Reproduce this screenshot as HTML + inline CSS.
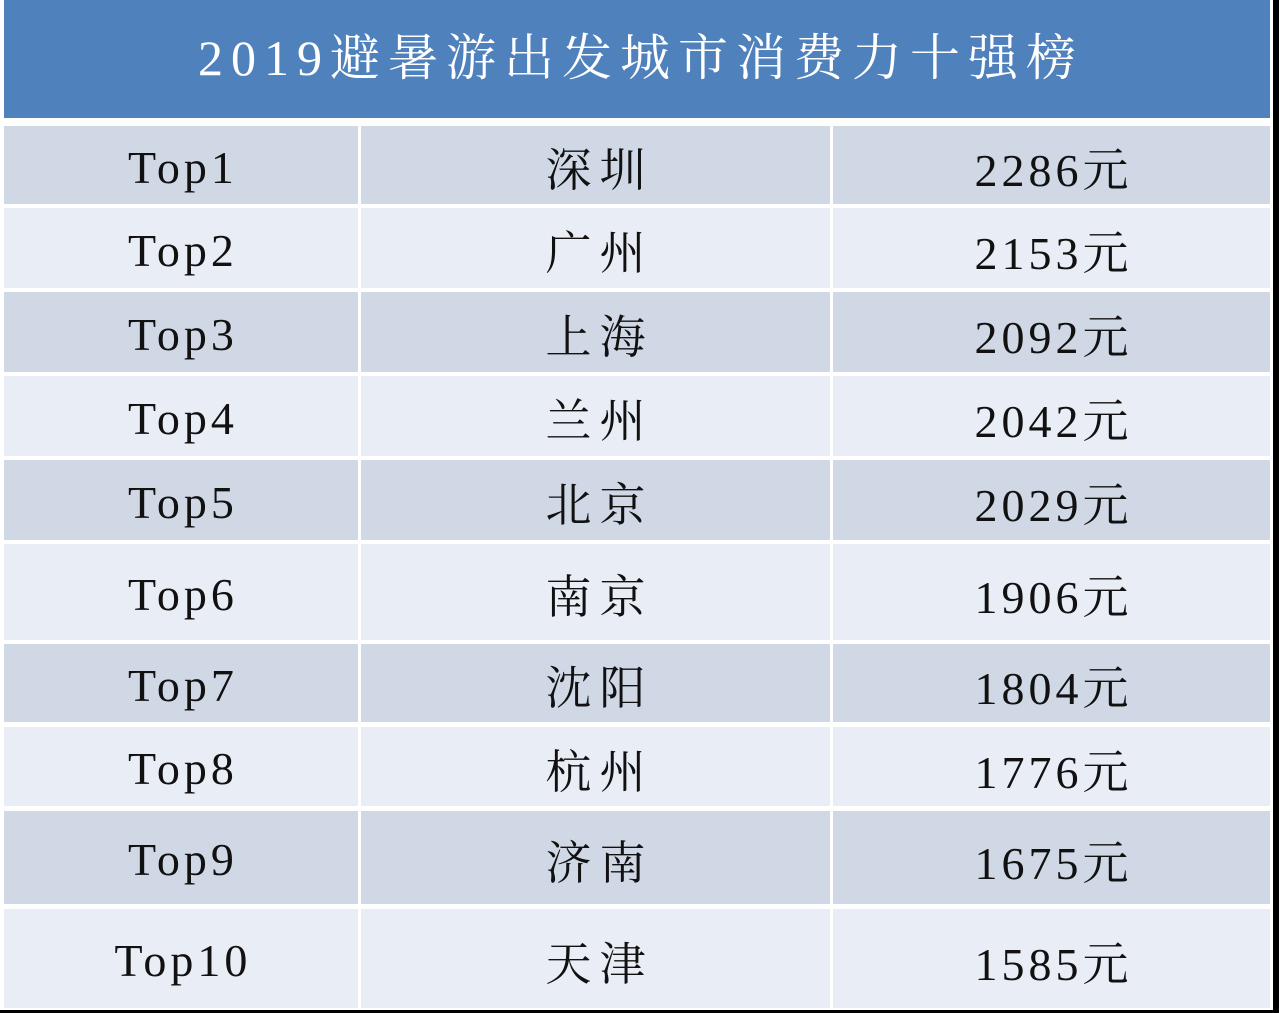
<!DOCTYPE html>
<html><head><meta charset="utf-8"><style>
body{margin:0;width:1279px;height:1013px;background:#000;position:relative;overflow:hidden;font-family:"Liberation Serif","Noto Serif CJK SC",serif}
.bg{position:absolute;left:0;top:0;width:1273px;height:1010px;background:#fff}
.title{position:absolute;left:4px;top:0;width:1266px;height:118px;background:#4f81bd;color:#fff;font-size:50px;line-height:116px;text-align:center;letter-spacing:8px;text-indent:8px}
.c{position:absolute;display:flex;align-items:center;justify-content:center;font-size:46px;color:#111;letter-spacing:4px;text-indent:4px;padding-top:4px;box-sizing:border-box}
.m{letter-spacing:8px;text-indent:8px}
.o{background:#d0d8e6}.e{background:#e9edf5}
</style></head><body>
<div class="bg"></div>
<div class="title">2019避暑游出发城市消费力十强榜</div>
<div id="t"></div>
<script>
var rows=[[126,204],[208,288],[292,372],[376,456],[460,540],[544,640],[644,722],[727,806],[811,904],[909,1008]];
var d=[["Top1","深圳","2286元"],["Top2","广州","2153元"],["Top3","上海","2092元"],["Top4","兰州","2042元"],["Top5","北京","2029元"],["Top6","南京","1906元"],["Top7","沈阳","1804元"],["Top8","杭州","1776元"],["Top9","济南","1675元"],["Top10","天津","1585元"]];
var cols=[[4,358],[361,830],[833,1270]];
var h="";
rows.forEach(function(r,i){cols.forEach(function(c,j){
h+='<div class="c '+(i%2?'e':'o')+(j==1?' m':'')+'" style="left:'+c[0]+'px;top:'+r[0]+'px;width:'+(c[1]-c[0])+'px;height:'+(r[1]-r[0])+'px">'+d[i][j]+'</div>';});});
document.getElementById('t').innerHTML=h;
</script>
</body></html>
